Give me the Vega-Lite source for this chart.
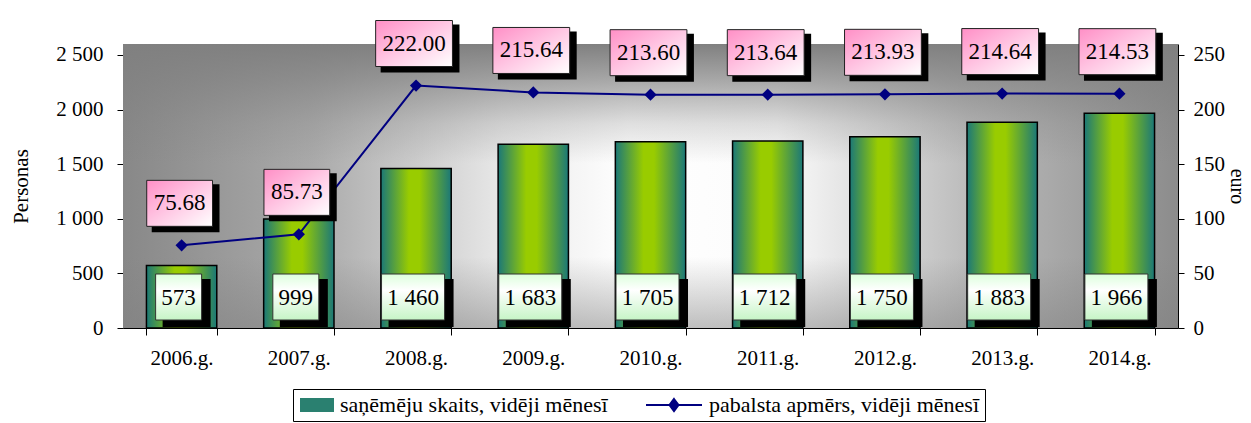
{
  "$schema": "https://vega.github.io/schema/vega-lite/v6.json",
  "width": 1055,
  "height": 284,
  "autosize": {"type": "none"},
  "padding": {"left": 123, "top": 44, "right": 73, "bottom": 95},
  "background": "white",
  "view": {"stroke": null},
  "config": {
    "font": "Liberation Serif",
    "locale": {
      "number": {"decimal": ".", "thousands": " ", "grouping": [3], "currency": ["", ""]}
    },
    "axis": {
      "labelFont": "Liberation Serif",
      "titleFont": "Liberation Serif",
      "labelFontSize": 21,
      "titleFontSize": 21,
      "titleFontWeight": "normal",
      "labelColor": "black",
      "titleColor": "black",
      "domainColor": "black",
      "tickColor": "black",
      "grid": false
    }
  },
  "data": {
    "values": [
      {"year": "2006.g.", "count": 573, "amount": 75.68},
      {"year": "2007.g.", "count": 999, "amount": 85.73},
      {"year": "2008.g.", "count": 1460, "amount": 222.00},
      {"year": "2009.g.", "count": 1683, "amount": 215.64},
      {"year": "2010.g.", "count": 1705, "amount": 213.60},
      {"year": "2011.g.", "count": 1712, "amount": 213.64},
      {"year": "2012.g.", "count": 1750, "amount": 213.93},
      {"year": "2013.g.", "count": 1883, "amount": 214.64},
      {"year": "2014.g.", "count": 1966, "amount": 214.53}
    ]
  },
  "layer": [
    {
      "data": {"values": [{"bg": 1}]},
      "mark": {
        "type": "rect",
        "fill": {
          "gradient": "linear",
          "x1": 0, "y1": 0, "x2": 1, "y2": 0,
          "stops": [
            {"offset": 0, "color": "#888888"},
            {"offset": 0.18, "color": "#aaaaaa"},
            {"offset": 0.36, "color": "#e8e8e8"},
            {"offset": 0.48, "color": "#ffffff"},
            {"offset": 0.62, "color": "#fbfbfb"},
            {"offset": 0.8, "color": "#bcbcbc"},
            {"offset": 1, "color": "#8c8c8c"}
          ]
        }
      },
      "encoding": {}
    },
    {
      "data": {"values": [{"bg": 1}]},
      "mark": {
        "type": "rect",
        "fill": {
          "gradient": "linear",
          "x1": 0, "y1": 0, "x2": 0, "y2": 1,
          "stops": [
            {"offset": 0, "color": "rgba(128,128,128,1)"},
            {"offset": 0.12, "color": "rgba(128,128,128,0.7)"},
            {"offset": 0.28, "color": "rgba(128,128,128,0.25)"},
            {"offset": 0.42, "color": "rgba(128,128,128,0)"},
            {"offset": 0.75, "color": "rgba(128,128,128,0)"},
            {"offset": 0.9, "color": "rgba(128,128,128,0.3)"},
            {"offset": 1, "color": "rgba(128,128,128,0.5)"}
          ]
        }
      },
      "encoding": {}
    },
    {
      "encoding": {
        "x": {
          "field": "year",
          "type": "nominal",
          "scale": {"paddingInner": 0.4, "paddingOuter": 0.2},
          "axis": {
            "title": null,
            "labelAngle": 0,
            "tickBand": "extent",
            "tickSize": 7,
            "labelPadding": 12,
            "domainWidth": 1
          }
        }
      },
      "layer": [
        {
          "mark": {
            "type": "bar",
            "stroke": "black",
            "strokeWidth": 1.5,
            "fill": {
              "gradient": "linear",
              "x1": 0, "y1": 0, "x2": 1, "y2": 0,
              "stops": [
                {"offset": 0, "color": "#1b7878"},
                {"offset": 0.4, "color": "#99cc00"},
                {"offset": 0.55, "color": "#99cc00"},
                {"offset": 1, "color": "#1b7878"}
              ]
            }
          },
          "encoding": {
            "y": {
              "field": "count",
              "type": "quantitative",
              "scale": {"domain": [0, 2500]},
              "axis": {
                "title": "Personas",
                "values": [0, 500, 1000, 1500, 2000, 2500],
                "format": ",d",
                "tickSize": 6,
                "labelPadding": 14,
                "titlePadding": 24
              }
            }
          }
        },
        {
          "mark": {"type": "point", "filled": true, "opacity": 1, "fill": "black", "stroke": "black", "size": 2116, "xOffset": 5, "yOffset": -25},
          "encoding": {
            "y": {"datum": 0, "type": "quantitative"},
            "shape": {
              "condition": {"test": "datum.count >= 1000", "value": "M-1.37,-1H1.37V1H-1.37Z"},
              "value": "M-1,-1H1V1H-1Z"
            }
          }
        },
        {
          "mark": {
            "type": "point", "filled": true, "opacity": 1, "stroke": "#333333", "strokeWidth": 1, "size": 2116, "yOffset": -31, "xOffset": -3,
            "fill": {
              "gradient": "linear",
              "x1": 0, "y1": 0, "x2": 0, "y2": 1,
              "stops": [
                {"offset": 0, "color": "#dcffdc"},
                {"offset": 0.35, "color": "#ffffff"},
                {"offset": 1, "color": "#c6f5c6"}
              ]
            }
          },
          "encoding": {
            "y": {"datum": 0, "type": "quantitative"},
            "shape": {
              "condition": {"test": "datum.count >= 1000", "value": "M-1.37,-1H1.37V1H-1.37Z"},
              "value": "M-1,-1H1V1H-1Z"
            }
          }
        },
        {
          "mark": {"type": "text", "font": "Liberation Serif", "fontSize": 23, "color": "black", "baseline": "middle", "yOffset": -30, "xOffset": -3},
          "encoding": {
            "y": {"datum": 0, "type": "quantitative"},
            "text": {"field": "count", "type": "quantitative", "format": ",d"}
          }
        }
      ]
    },
    {
      "encoding": {
        "x": {
          "field": "year",
          "type": "nominal",
          "scale": {"paddingInner": 0.4, "paddingOuter": 0.2},
          "axis": {
            "title": null,
            "labelAngle": 0,
            "tickBand": "extent",
            "tickSize": 7,
            "labelPadding": 12,
            "domainWidth": 1
          }
        }
      },
      "layer": [
        {
          "mark": {"type": "line", "strokeWidth": 2, "point": {"filled": true, "shape": "diamond", "size": 150, "opacity": 1}},
          "encoding": {
            "y": {
              "field": "amount",
              "type": "quantitative",
              "scale": {"domain": [0, 250]},
              "axis": {
                "title": "euro",
                "orient": "right",
                "values": [0, 50, 100, 150, 200, 250],
                "tickSize": 6,
                "labelPadding": 9,
                "titlePadding": 2,
                "titleFontSize": 20
              }
            },
            "color": {
              "datum": "pabalsta apmērs, vidēji mēnesī",
              "type": "nominal",
              "scale": {
                "domain": ["saņēmēju skaits, vidēji mēnesī", "pabalsta apmērs, vidēji mēnesī"],
                "range": ["#2a8070", "#000080"]
              },
              "legend": {
                "title": null,
                "orient": "none",
                "direction": "horizontal",
                "legendX": 170,
                "legendY": 345,
                "labelFont": "Liberation Serif",
                "labelFontSize": 22,
                "labelColor": "black",
                "labelLimit": 400,
                "labelOffset": 20,
                "symbolOffset": 0,
                "columnPadding": 34,
                "symbolSize": 400,
                "padding": 5,
                "strokeColor": "black",
                "fillColor": "white",
                "encode": {
                  "symbols": {
                    "update": {
                      "shape": [
                        {"test": "datum.value === 'pabalsta apmērs, vidēji mēnesī'", "value": "M-3.2,0H2.4M-0.4,-0.6L0.05,0L-0.4,0.6L-0.85,0Z"},
                        {"value": "M-0.8,-0.6H2.4V0.6H-0.8Z"}
                      ],
                      "stroke": [
                        {"test": "datum.value === 'pabalsta apmērs, vidēji mēnesī'", "value": "#000080"},
                        {"value": "#000000"}
                      ],
                      "strokeWidth": {"value": 2},
                      "opacity": {"value": 1},
                      "fillOpacity": {"value": 1},
                      "size": {"value": 400}
                    }
                  }
                }
              }
            }
          }
        },
        {
          "mark": {"type": "point", "filled": true, "opacity": 1, "fill": "black", "stroke": "black", "size": 2116, "xOffset": 4, "yOffset": -37},
          "encoding": {
            "y": {"field": "amount", "type": "quantitative"},
            "shape": {
              "condition": {"test": "datum.amount >= 100", "value": "M-1.67,-1H1.67V1H-1.67Z"},
              "value": "M-1.43,-1H1.43V1H-1.43Z"
            }
          }
        },
        {
          "mark": {
            "type": "point", "filled": true, "opacity": 1, "stroke": "#222222", "strokeWidth": 1, "size": 2116, "yOffset": -42, "xOffset": -2,
            "fill": {
              "gradient": "linear",
              "x1": 0, "y1": 0, "x2": 1, "y2": 1,
              "stops": [
                {"offset": 0, "color": "#ff8fc6"},
                {"offset": 0.5, "color": "#ffc8e4"},
                {"offset": 1, "color": "#ffffff"}
              ]
            }
          },
          "encoding": {
            "y": {"field": "amount", "type": "quantitative"},
            "shape": {
              "condition": {"test": "datum.amount >= 100", "value": "M-1.67,-1H1.67V1H-1.67Z"},
              "value": "M-1.43,-1H1.43V1H-1.43Z"
            }
          }
        },
        {
          "mark": {"type": "text", "font": "Liberation Serif", "fontSize": 23, "color": "black", "baseline": "middle", "yOffset": -42, "xOffset": -2},
          "encoding": {
            "y": {"field": "amount", "type": "quantitative"},
            "text": {"field": "amount", "type": "quantitative", "format": ".2f"}
          }
        }
      ]
    }
  ],
  "resolve": {"scale": {"y": "independent"}}
}
